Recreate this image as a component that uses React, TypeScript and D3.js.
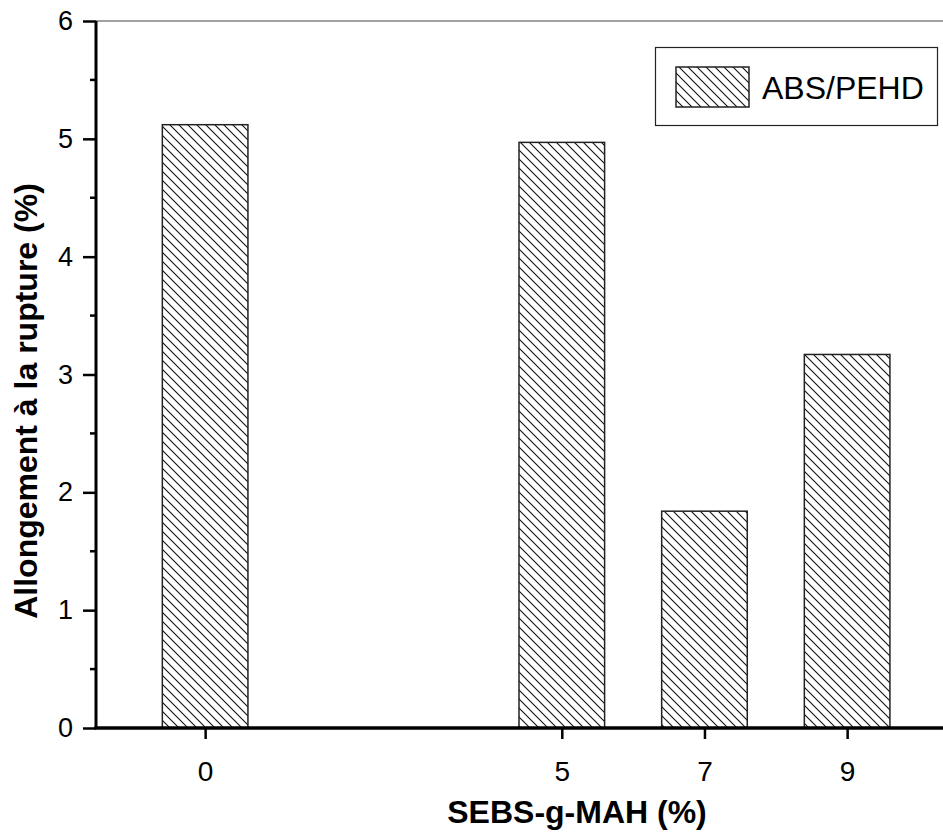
import React, { useRef, useEffect } from "react";
import { select, scaleLinear, axisBottom, axisLeft } from "d3";

const sebsContent = [0, 5, 7, 9];
const elongation = [5.12, 4.97, 1.84, 3.17];
const yTicks = [0, 1, 2, 3, 4, 5, 6];
const yMinorTicks = [0.5, 1.5, 2.5, 3.5, 4.5, 5.5];
const seriesName = "ABS/PEHD";
const xTitle = "SEBS-g-MAH (%)";
const yTitle = "Allongement à la rupture (%)";

const W = 943;
const H = 836;
const left = 96;
const top = 21;
const bottom = 728;
const font = "'Liberation Sans', Arial, sans-serif";

const App = () => {
    const svgRef = useRef<SVGSVGElement>(null);

    useEffect(() => {
        const svg = select(svgRef.current);
        svg.selectAll("*").remove();

        const x = scaleLinear().domain([-1.53, 10.4]).range([left, W + 4]);
        const y = scaleLinear().domain([0, 6]).range([bottom, top]);
        const barW = x(1.2) - x(0);

        // hatch pattern
        const defs = svg.append("defs");
        const pat = defs
            .append("pattern")
            .attr("id", "hatch")
            .attr("patternUnits", "userSpaceOnUse")
            .attr("width", 9)
            .attr("height", 9);
        pat.append("path")
            .attr("d", "M0,0 L9,9 M-2,7 L2,11 M7,-2 L11,2")
            .attr("stroke", "#111")
            .attr("stroke-width", 1.1);

        // top frame line
        svg.append("line")
            .attr("x1", left)
            .attr("x2", W)
            .attr("y1", y(6))
            .attr("y2", y(6))
            .attr("stroke", "#444")
            .attr("stroke-width", 1.2);

        // bars
        svg.selectAll(".bar")
            .data(sebsContent)
            .join("rect")
            .attr("class", "bar")
            .attr("x", (d) => x(d) - barW / 2)
            .attr("y", (d, i) => y(elongation[i]))
            .attr("width", barW)
            .attr("height", (d, i) => y(0) - y(elongation[i]))
            .attr("fill", "url(#hatch)")
            .attr("stroke", "#222")
            .attr("stroke-width", 1.5);

        // y axis
        const yAxis = axisLeft(y)
            .tickValues(yTicks)
            .tickSize(13)
            .tickPadding(10)
            .tickFormat((d) => String(d));
        const gy = svg.append("g").attr("transform", `translate(${left},0)`).call(yAxis);
        gy.select(".domain").attr("stroke-width", 3).attr("d", `M0,${y(6)}V${y(0)}`);
        gy.selectAll(".tick line").attr("stroke-width", 2.5);
        gy.selectAll("text").style("font-size", "27px").style("font-family", font).attr("fill", "#000");

        svg.append("g")
            .selectAll("line")
            .data(yMinorTicks)
            .join("line")
            .attr("x1", left - 6)
            .attr("x2", left)
            .attr("y1", (d) => y(d))
            .attr("y2", (d) => y(d))
            .attr("stroke", "#000")
            .attr("stroke-width", 2.5);

        // x axis
        const xAxis = axisBottom(x)
            .tickValues(sebsContent)
            .tickSize(11)
            .tickPadding(22)
            .tickFormat((d) => String(d));
        const gx = svg.append("g").attr("transform", `translate(0,${bottom})`).call(xAxis);
        gx.select(".domain").attr("stroke-width", 3.5).attr("d", `M${left - 1.5},0H${W}`);
        gx.selectAll(".tick line").attr("stroke-width", 2.5);
        gx.selectAll("text").style("font-size", "28px").style("font-family", font).attr("fill", "#000");

        // titles
        svg.append("text")
            .attr("x", 577)
            .attr("y", 823)
            .attr("text-anchor", "middle")
            .style("font-family", font)
            .style("font-size", "32px")
            .style("font-weight", "bold")
            .text(xTitle);

        svg.append("text")
            .attr("transform", "translate(37,401) rotate(-90)")
            .attr("text-anchor", "middle")
            .style("font-family", font)
            .style("font-size", "32px")
            .style("font-weight", "bold")
            .text(yTitle);

        // legend
        const lg = svg.append("g");
        lg.append("rect")
            .attr("x", 655.5)
            .attr("y", 47.5)
            .attr("width", 282)
            .attr("height", 78)
            .attr("fill", "#fff")
            .attr("stroke", "#222")
            .attr("stroke-width", 1.2);
        lg.append("rect")
            .attr("x", 676)
            .attr("y", 67)
            .attr("width", 73)
            .attr("height", 40)
            .attr("fill", "url(#hatch)")
            .attr("stroke", "#222")
            .attr("stroke-width", 1.5);
        lg.append("text")
            .attr("x", 762)
            .attr("y", 99)
            .style("font-family", font)
            .style("font-size", "32px")
            .text(seriesName);
    }, []);

    return (
        <svg
            ref={svgRef}
            width={W}
            height={H}
            style={{ position: "absolute", left: 0, top: 0, background: "#fff" }}
        />
    );
};

export default App;
